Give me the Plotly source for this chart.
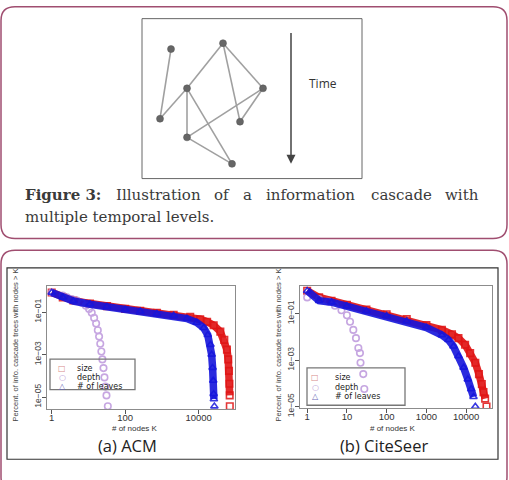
import plotly.graph_objects as go

W, H = 509, 480


def px(x):
    return x / W


def py(y):
    return 1 - y / H


# ---------------- Figure 3 diagram data ----------------
node_names = ["A", "B", "C", "D", "E", "F", "G", "H"]
node_x = [171, 223, 187, 263, 160, 240, 187, 232]
node_y = [50, 44, 90, 90, 121, 124, 140, 167]
edge_list = [("A", "E"), ("E", "C"), ("C", "B"), ("B", "D"), ("B", "F"),
             ("D", "F"), ("D", "G"), ("C", "G"), ("C", "H"), ("G", "H")]
time_label = "Time"

caption_line1 = ["Figure 3:", "Illustration", "of", "a", "information", "cascade", "with"]
caption_line2 = "multiple temporal levels."

# ---------------- (a) ACM data ----------------
acm_size_k = [1, 2, 3.9, 11, 32, 100, 257, 730, 2090, 5900, 11000, 17000, 25700,
              39000, 50000, 59000, 64000, 67000, 69000, 70000, 70500]
acm_size = [0.83, 0.49, 0.35, 0.25, 0.19, 0.14, 0.115, 0.093, 0.075, 0.059, 0.046,
            0.035, 0.024, 0.012, 4.9e-3, 1.7e-3, 5.9e-4, 1.7e-4, 4.2e-5, 1.2e-5, 3.7e-6]

acm_depth_k = [1, 2, 2.6, 3.5, 4.8, 6.6, 8.5, 10.4, 12.3, 14.3, 16.2, 18, 19.5, 21,
               22.5, 24, 25.7, 27.3, 29, 31, 33.7]
acm_depth = [0.83, 0.59, 0.49, 0.41, 0.35, 0.27, 0.20, 0.14, 0.093, 0.053, 0.029,
             0.014, 0.007, 3.2e-3, 1.4e-3, 5.9e-4, 2.3e-4, 8.4e-5, 3.1e-5, 1.2e-5, 3.7e-6]

acm_leaves_k = [1, 2, 3.9, 11, 32, 100, 257, 730, 2090, 4800, 8900, 13700, 17700,
                21000, 22600, 24000, 25000, 25600, 26000, 26800]
acm_leaves = [0.83, 0.49, 0.33, 0.234, 0.18, 0.13, 0.107, 0.083, 0.068, 0.049, 0.032,
              0.018, 8.4e-3, 2.9e-3, 1e-3, 2.4e-4, 5.9e-5, 1.4e-5, 8e-6, 3.7e-6]

# ---------------- (b) CiteSeer data ----------------
cs_size_k = [1, 2, 4.1, 10, 31, 100, 320, 1000, 2450, 4400, 6400, 9400, 12600, 17000,
             21000, 24800, 27300, 30000, 32500]
cs_size = [0.97, 0.5, 0.36, 0.24, 0.15, 0.094, 0.058, 0.032, 0.02, 0.013, 8.8e-3,
           4.6e-3, 2e-3, 7.7e-4, 2.5e-4, 9.4e-5, 4.2e-5, 2.2e-5, 1e-5]

cs_depth_k = [1, 2, 3.4, 5, 7.3, 10, 12, 14.5, 16.9, 19.4, 21.3, 22, 25.8, 27.4]
cs_depth = [0.5, 0.43, 0.33, 0.22, 0.14, 0.085, 0.045, 0.02, 8.8e-3, 3.3e-3, 2e-3,
            7.7e-4, 2.5e-4, 5.7e-5]

cs_leaves_k = [1, 2, 4.1, 10, 31, 100, 320, 1000, 2450, 3600, 4800, 6400, 8600, 11000,
               13400, 15300, 17000]
cs_leaves = [0.97, 0.36, 0.31, 0.21, 0.13, 0.08, 0.048, 0.025, 0.012, 7.4e-3, 3.9e-3,
             1.5e-3, 4.8e-4, 1.5e-4, 5.7e-5, 2.6e-5, 1e-5]

legend_labels = ["size", "depth", "# of leaves"]
acm_xticks = [1, 100, 10000]
cs_xticks = [1, 10, 100, 1000, 10000]
y_ticks = [1e-1, 1e-3, 1e-5]
y_ticktext = ["1e\u221201", "1e\u221203", "1e\u221205"]
y_title = "Percent. of info. cascade trees with nodes > K"
x_title = "# of nodes K"
panel_titles = ["(a) ACM", "(b) CiteSeer"]

RED = "#e01414"
BLUE = "#1616dc"
LAV = "#b48ad8"

fig = go.Figure()

# ---- diagram edges & nodes ----
idx = {n: i for i, n in enumerate(node_names)}
ex, ey = [], []
for a, b in edge_list:
    ex += [node_x[idx[a]], node_x[idx[b]], None]
    ey += [node_y[idx[a]], node_y[idx[b]], None]
fig.add_trace(go.Scatter(x=ex, y=ey, mode="lines", line=dict(color="#a0a0a0", width=1.6),
                         xaxis="x3", yaxis="y3", hoverinfo="skip", showlegend=False))
fig.add_trace(go.Scatter(x=node_x, y=node_y, mode="markers",
                         marker=dict(color="#666666", size=7, line=dict(color="#555", width=0.5)),
                         xaxis="x3", yaxis="y3", hoverinfo="skip", showlegend=False))


def add_series(k, v, color, symbol, xa, ya, band):
    if band:
        fig.add_trace(go.Scatter(x=k[:-1], y=v[:-1], mode="lines",
                                 line=dict(color=color, width=7.5), opacity=0.9,
                                 xaxis=xa, yaxis=ya, hoverinfo="skip", showlegend=False))
    fig.add_trace(go.Scatter(x=k, y=v, mode="markers",
                             marker=dict(symbol=symbol, size=6.5, color=color,
                                         line=dict(color=color, width=1.6)),
                             opacity=0.85 if band else 0.75,
                             xaxis=xa, yaxis=ya, hoverinfo="skip", showlegend=False))


add_series(acm_size_k, acm_size, RED, "square-open", "x", "y", True)
add_series(acm_depth_k, acm_depth, LAV, "circle-open", "x", "y", False)
add_series(acm_leaves_k, acm_leaves, BLUE, "triangle-up-open", "x", "y", True)

add_series(cs_size_k, cs_size, RED, "square-open", "x2", "y2", True)
add_series(cs_depth_k, cs_depth, LAV, "circle-open", "x2", "y2", False)
add_series(cs_leaves_k, cs_leaves, BLUE, "triangle-up-open", "x2", "y2", True)

axis_common = dict(type="log", showgrid=False, zeroline=False, showline=True, mirror=True,
                   linecolor="#8c8c8c", linewidth=1.2, ticks="outside", ticklen=4,
                   tickcolor="#555", tickwidth=1)
xfont = dict(family="Liberation Sans", size=9.5, color="#333")
yfont = dict(family="Liberation Sans", size=8.5, color="#444")

fig.update_layout(
    width=W, height=H, margin=dict(l=0, r=0, t=0, b=0),
    paper_bgcolor="white", plot_bgcolor="white", showlegend=False,
    xaxis=dict(axis_common, domain=[px(47), px(235)], range=[-0.128, 4.99],
               tickvals=acm_xticks, ticktext=[str(t) for t in acm_xticks],
               tickfont=xfont, ticklabelstandoff=-5, anchor="y"),
    yaxis=dict(axis_common, domain=[py(417), py(291)], range=[-5.57, 0.246],
               tickvals=y_ticks, ticktext=y_ticktext, tickangle=-90,
               tickfont=yfont, ticklabelstandoff=-2, anchor="x"),
    xaxis2=dict(axis_common, domain=[px(300), px(492)], range=[-0.18, 4.65],
                tickvals=cs_xticks, ticktext=[str(t) for t in cs_xticks],
                tickfont=xfont, ticklabelstandoff=-5, anchor="y2"),
    yaxis2=dict(axis_common, domain=[py(416), py(291)], range=[-5.07, 0.21],
                tickvals=y_ticks, ticktext=y_ticktext, tickangle=-90,
                tickfont=yfont, ticklabelstandoff=-2, anchor="x2"),
    xaxis3=dict(domain=[px(142), px(362)], range=[142, 362], visible=False, anchor="y3"),
    yaxis3=dict(domain=[py(182), py(19)], range=[182, 19], visible=False, anchor="x3"),
)


def rounded_path(x0, y0, x1, y1, r):
    rx, ry = r / W, r / H
    X0, X1 = px(x0), px(x1)
    Y0, Y1 = py(y0), py(y1)  # Y0 top (larger), Y1 bottom
    return (f"M {X0+rx},{Y0} L {X1-rx},{Y0} Q {X1},{Y0} {X1},{Y0-ry} "
            f"L {X1},{Y1+ry} Q {X1},{Y1} {X1-rx},{Y1} L {X0+rx},{Y1} "
            f"Q {X0},{Y1} {X0},{Y1+ry} L {X0},{Y0-ry} Q {X0},{Y0} {X0+rx},{Y0} Z")


PINK = "#a04e70"
shapes = [
    dict(type="path", xref="paper", yref="paper", path=rounded_path(1, 7, 507, 243, 14),
         line=dict(color=PINK, width=1.5)),
    dict(type="path", xref="paper", yref="paper", path=rounded_path(1, 255, 507, 500, 14),
         line=dict(color=PINK, width=1.5)),
    dict(type="rect", xref="paper", yref="paper", x0=px(142), x1=px(362), y0=py(182), y1=py(19),
         line=dict(color="#666", width=1)),
    dict(type="rect", xref="paper", yref="paper", x0=px(7), x1=px(498), y0=py(468), y1=py(273),
         line=dict(color="#333", width=1.2)),
]
# legend boxes
shapes.append(dict(type="rect", xref="paper", yref="paper", x0=px(50), x1=px(135),
                   y0=py(397), y1=py(366), line=dict(color="#777", width=1.3),
                   fillcolor="rgba(255,255,255,0)"))
shapes.append(dict(type="rect", xref="paper", yref="paper", x0=px(307), x1=px(405),
                   y0=py(413), y1=py(375), line=dict(color="#777", width=1.3),
                   fillcolor="rgba(255,255,255,0)"))
fig.update_layout(shapes=shapes)

ann = []


def txt(x, y, text, font, xanchor="center", angle=0):
    ann.append(dict(x=px(x), y=py(y), xref="paper", yref="paper", text=text,
                    xanchor=xanchor, yanchor="middle", textangle=angle,
                    showarrow=False, font=font))


# Time arrow
ann.append(dict(x=291, y=167, ax=291, ay=32, xref="x3", yref="y3", axref="x3", ayref="y3",
                text="", showarrow=True, arrowhead=2, arrowsize=1.2, arrowwidth=1.5,
                arrowcolor="#444"))
txt(323, 85, time_label, dict(family="Open Sans", size=12, color="#333"))

# Caption (justified line 1)
cap_font = dict(family="DejaVu Serif", size=15, color="#3a3a3a")
word_centers = [None, 158, 221.5, 247, 310.5, 401, None]
for i, w in enumerate(caption_line1):
    if i == 0:
        txt(23, 199, f"<b>{w}</b>", cap_font, "left")
    elif i == len(caption_line1) - 1:
        txt(481, 199, w, cap_font, "right")
    else:
        txt(word_centers[i], 199, w, cap_font, "center")
txt(23, 221, caption_line2, cap_font, "left")

# axis titles
small = dict(family="Liberation Sans", size=7.5, color="#444")
for xc in (15, 278):
    txt(xc, 352, y_title, small, "center", -90)
for xc in (135, 393):
    txt(xc, 437, x_title, dict(family="Liberation Sans", size=8, color="#333"))

# panel titles
for xc, t in zip((128, 384), panel_titles):
    txt(xc, 454, t, dict(family="Open Sans", size=16.5, color="#222"))

# legends
sym_chars = ["\u25a1", "\u25cb", "\u25b3"]
sym_cols = ["#d88a8a", "#b99ad8", "#6a6ab8"]
leg_font = dict(family="DejaVu Sans", size=8, color="#222")
for (sx, tx, ys) in ((62, 75, (376, 385, 394)), (315, 333, (385, 394.5, 404))):
    for s, c, lab, yy in zip(sym_chars, sym_cols, legend_labels, ys):
        txt(sx, yy, s, dict(family="DejaVu Sans", size=8, color=c))
        txt(tx, yy, lab, leg_font, "left")

fig.update_layout(annotations=ann)
fig.write_html("out.html")
